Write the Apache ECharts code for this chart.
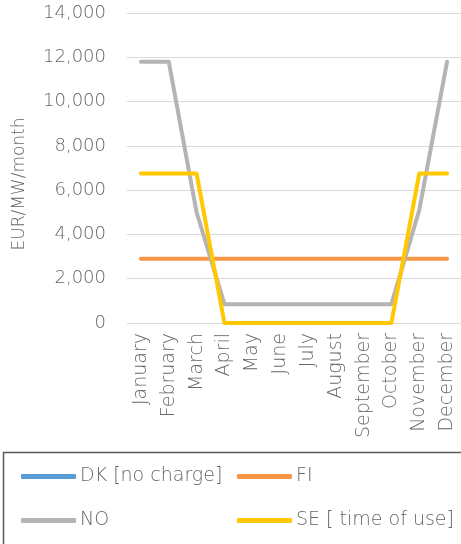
<!DOCTYPE html>
<html>
<head>
<meta charset="utf-8">
<script src="https://cdn.jsdelivr.net/npm/echarts@6/dist/echarts.min.js"></script>
<style>
  html, body { margin: 0; padding: 0; background: #fff; }
  #chart { width: 461px; height: 544px; }
</style>
</head>
<body>
<div id="chart"></div>
<script>
// data
var months = ['January', 'February', 'March', 'April', 'May', 'June', 'July',
  'August', 'September', 'October', 'November', 'December'];
var dkValues = [null, null, null, null, null, null, null, null, null, null, null, null];
var fiValues = [2900, 2900, 2900, 2900, 2900, 2900, 2900, 2900, 2900, 2900, 2900, 2900];
var noValues = [11800, 11800, 5000, 850, 850, 850, 850, 850, 850, 850, 5100, 11800];
var seValues = [6750, 6750, 6750, 0, 0, 0, 0, 0, 0, 0, 6750, 6750];
var seriesNames = ['DK [no charge]', 'FI', 'NO', 'SE [ time of use]'];
var colors = ['#5B9BD5', '#F79646', '#B4B4B4', '#FFC800'];

var font = '"DejaVu Sans", sans-serif';
var textColor = '#666666';

function lineSeries(i, data) {
  return {
    name: seriesNames[i],
    type: 'line',
    data: data,
    symbol: 'none',
    lineStyle: { width: 4, color: colors[i], cap: 'round', join: 'round' },
    itemStyle: { color: colors[i] },
    z: 2 + i
  };
}

function legendAt(i, left, top) {
  return {
    data: [seriesNames[i]],
    left: left,
    top: top,
    icon: 'roundRect',
    itemWidth: 55,
    itemHeight: 5,
    itemGap: 0,
    padding: 0,
    textStyle: { color: textColor, fontSize: 19, fontWeight: 200, fontFamily: font, padding: [0, 0, 0, -1] },
    selectedMode: false
  };
}

var chart = echarts.init(document.getElementById('chart'));
chart.setOption({
  backgroundColor: '#fff',
  animation: false,
  grid: { left: 127, right: -3, top: 13, bottom: 221, containLabel: false },
  xAxis: {
    type: 'category',
    data: months,
    boundaryGap: true,
    axisLine: { show: false },
    axisTick: { show: false },
    axisLabel: {
      rotate: 90,
      interval: 0,
      margin: 10,
      color: textColor,
      fontSize: 19,
      fontWeight: 200,
      fontFamily: font
    }
  },
  yAxis: {
    type: 'value',
    min: 0,
    max: 14000,
    interval: 2000,
    axisLine: { show: false },
    axisTick: { show: false },
    splitLine: { lineStyle: { color: '#D9D9D9', width: 1 } },
    axisLabel: {
      margin: 21,
      color: textColor,
      fontSize: 18,
      fontWeight: 200,
      fontFamily: font,
      formatter: function (v) { return v.toLocaleString('en-US'); }
    }
  },
  legend: [
    legendAt(0, 21, 467),
    legendAt(1, 237, 467),
    legendAt(2, 21, 511),
    legendAt(3, 237, 511)
  ],
  graphic: [{
    type: 'rect',
    left: 1,
    top: 450,
    shape: { width: 470, height: 100 },
    style: { fill: 'none', stroke: '#595959', lineWidth: 1.5 },
    silent: true
  }, {
    type: 'text',
    x: 20,
    y: 184,
    rotation: Math.PI / 2,
    style: {
      text: 'EUR/MW/month',
      fill: textColor,
      fontSize: 17,
      fontWeight: 200,
      fontFamily: font,
      align: 'center',
      verticalAlign: 'middle'
    },
    silent: true
  }],
  series: [
    lineSeries(0, dkValues),
    lineSeries(1, fiValues),
    lineSeries(2, noValues),
    lineSeries(3, seValues)
  ]
});
</script>
</body>
</html>
